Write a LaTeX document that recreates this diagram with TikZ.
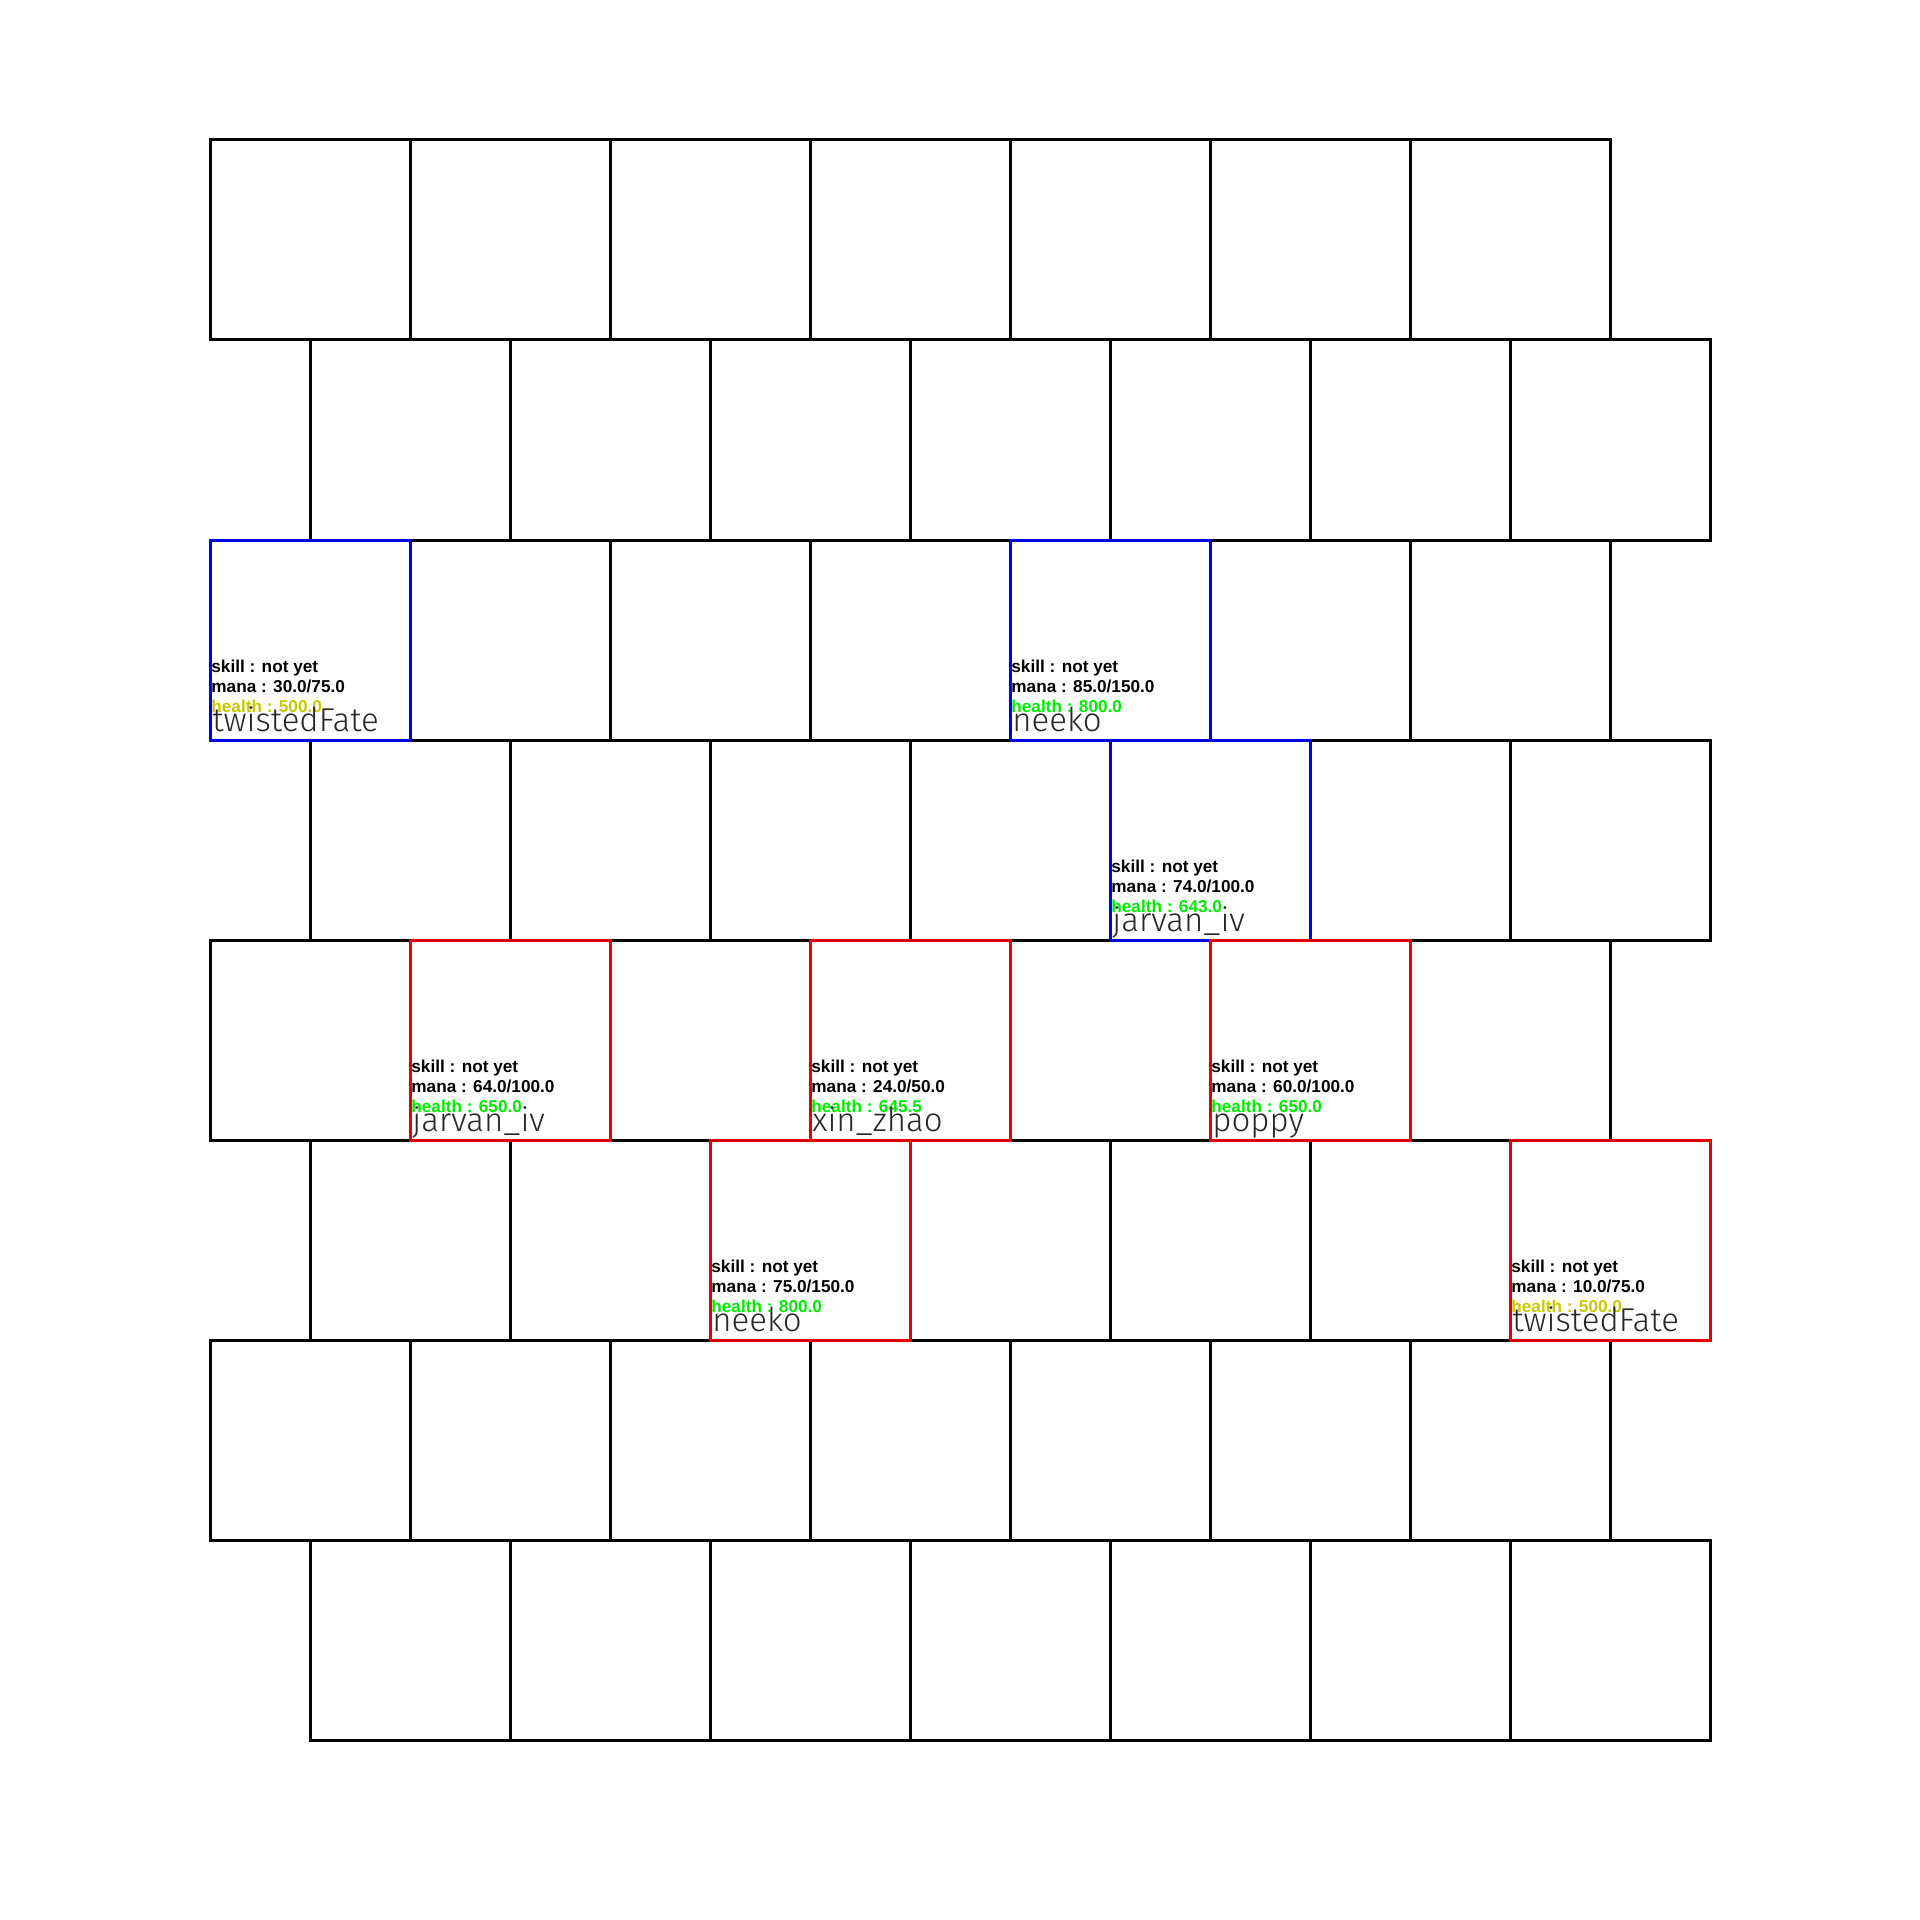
\documentclass[tikz,border=0pt]{standalone}
\usepackage{fontspec}
\setmainfont{Liberation Sans}
\newfontfamily\namefont{Fira Sans Light}
\definecolor{hyellow}{RGB}{200,200,0}
\definecolor{hgreen}{RGB}{0,235,0}
\definecolor{fblue}{RGB}{0,0,230}
\definecolor{fred}{RGB}{230,0,0}
\definecolor{namegray}{RGB}{40,40,40}
\tikzset{
  cell/.style={draw=black, line width=1.5pt},
  frame/.style={line width=1.5pt},
  smalltxt/.style={inner sep=0pt, anchor=base west, font=\fontsize{8.6}{10}\selectfont\bfseries},
  nametxt/.style={inner sep=0pt, anchor=base west, text=namegray, font=\namefont\fontsize{16.5}{18}\selectfont}
}
\newcommand\champ[8]{%
  \draw[frame, draw=#3] (#1,#2) rectangle ++(200,200);
  \node[smalltxt] (#4s) at ({#1+1},{#2+132}) {skill : not yet};
  \node[smalltxt] (#4m) at ({#1+1},{#2+152}) {mana : #5};
  \node[smalltxt, text=#6] (#4h) at ({#1+1},{#2+172}) {health : #7};
  \node[nametxt] (#4n) at ({#1+2},{#2+191}) {#8};
}
\begin{document}
\begin{tikzpicture}[x=0.5pt,y=-0.5pt]
\useasboundingbox (0,0) rectangle (1920,1920);
\foreach \r in {0,2,4,6}{
  \foreach \c in {0,...,6}{
    \draw[cell] ({210+200*\c},{140+200*\r}) rectangle ++(200,200);
  }
}
\foreach \r in {1,3,5,7}{
  \foreach \c in {0,...,6}{
    \draw[cell] ({310+200*\c},{140+200*\r}) rectangle ++(200,200);
  }
}
\champ{210}{540}{fblue}{tfa}{30.0/75.0}{hyellow}{500.0}{twistedFate}
\champ{1010}{540}{fblue}{nea}{85.0/150.0}{hgreen}{800.0}{neeko}
\champ{1110}{740}{fblue}{jva}{74.0/100.0}{hgreen}{643.0}{jarvan\_iv}
\champ{410}{940}{fred}{jvb}{64.0/100.0}{hgreen}{650.0}{jarvan\_iv}
\champ{810}{940}{fred}{xz}{24.0/50.0}{hgreen}{645.5}{xin\_zhao}
\champ{1210}{940}{fred}{po}{60.0/100.0}{hgreen}{650.0}{poppy}
\champ{710}{1140}{fred}{neb}{75.0/150.0}{hgreen}{800.0}{neeko}
\champ{1510}{1140}{fred}{tfb}{10.0/75.0}{hyellow}{500.0}{twistedFate}
\end{tikzpicture}
\end{document}
